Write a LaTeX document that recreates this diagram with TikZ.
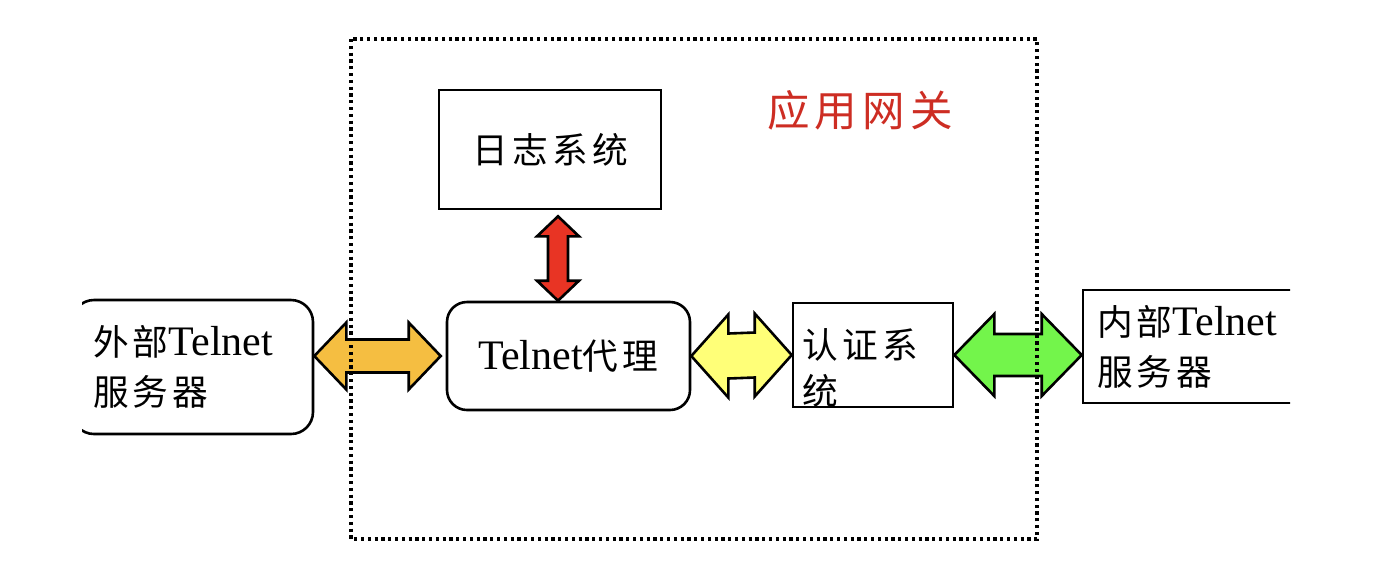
\documentclass[tikz,border=0pt]{standalone}
\usepackage{fontspec}
\setmainfont{Liberation Serif}
\newfontfamily\cjk[Scale=0.85,LetterSpace=12]{Noto Sans CJK SC}
\usetikzlibrary{calc}
\definecolor{gwred}{RGB}{205,45,35}
\definecolor{arrred}{RGB}{232,52,36}
\definecolor{arrorange}{RGB}{245,190,65}
\definecolor{arryellow}{RGB}{255,255,120}
\definecolor{arrgreen}{RGB}{115,245,75}
% double block arrows: colour, from, to, head length, head half width, shaft half width
\newcommand{\dblarrowh}[6]{%
	\draw[blockarrow,fill=#1] (#2) -- ($(#2)+(#4,#5)$) -- ($(#2)+(#4,#6)$) -- ($(#3)+(-#4,#6)$) -- ($(#3)+(-#4,#5)$) -- (#3) -- ($(#3)+(-#4,-#5)$) -- ($(#3)+(-#4,-#6)$) -- ($(#2)+(#4,-#6)$) -- ($(#2)+(#4,-#5)$) -- cycle;}
\newcommand{\dblarrowv}[6]{%
	\draw[blockarrow,fill=#1] (#2) -- ($(#2)+(#5,#4)$) -- ($(#2)+(#6,#4)$) -- ($(#3)+(#6,-#4)$) -- ($(#3)+(#5,-#4)$) -- (#3) -- ($(#3)+(-#5,-#4)$) -- ($(#3)+(-#6,-#4)$) -- ($(#2)+(-#6,#4)$) -- ($(#2)+(-#5,#4)$) -- cycle;}
\begin{document}
\begin{tikzpicture}[x=0.5pt,y=-0.5pt,
	box/.style={draw,line width=1.3pt,inner sep=0pt,font=\fontsize{21}{25}\selectfont},
	blockarrow/.style={draw,line width=1.3pt}]
	\useasboundingbox (0,0) rectangle (1382,570);
	\begin{scope}
		\clip (82,0) rectangle (1290,570);
		% boxes
		\node[box,rounded corners=11pt,minimum width=120.5pt,minimum height=67pt,text width=99.5pt,inner xsep=10.5pt,align=left] (ext) at (192.5,367) {{\cjk 外部}Telnet\\{\cjk 服务器}};
		\node[box,rounded corners=10pt,minimum width=121.5pt,minimum height=54pt] (proxy) at (568.5,356) {Telnet{\cjk 代理}};
		\node[box,minimum width=111pt,minimum height=59.5pt] (log) at (550,149.5) {\cjk 日志系统};
		\node[box,minimum width=80pt,minimum height=52pt] (auth) at (873,355) {};
		\node[font=\fontsize{21}{23}\selectfont,inner sep=0pt,anchor=north west,align=left] (authtxt) at ($(auth.north west)+(10,26)$) {\cjk 认证系\\\cjk 统};
		\node[box,minimum width=108.5pt,minimum height=56.5pt,text width=94.5pt,inner xsep=7pt,align=left] (int) at (1191.5,346.5) {{\cjk 内部}Telnet\\{\cjk 服务器}};
		\node[text=gwred,font=\fontsize{25}{30}\selectfont] (gwlabel) at (860,110) {\cjk 应用网关};
		% arrows
		\coordinate (oA) at (ext.east |- proxy.west);
		\coordinate (oB) at ($(proxy.west)+(-5,0)$);
		\coordinate (gB) at (auth.east -| int.west);
		\coordinate (rA) at ($(log.south)+(8,6)$);
		\coordinate (rB) at (rA |- proxy.north);
		\dblarrowh{arrorange}{oA}{oB}{32}{33.5}{16.5}
		\dblarrowh{arryellow}{proxy.east}{auth.west}{37}{41.5}{22.5}
		\dblarrowh{arrgreen}{auth.east}{gB}{40}{41}{21}
		\dblarrowv{arrred}{rA}{rB}{20}{21}{10}
		% gateway
		\draw[line width=1.6pt,dash pattern=on 1.6pt off 1.8pt] (351,39) rectangle (1037,539);
	\end{scope}
\end{tikzpicture}
\end{document}
